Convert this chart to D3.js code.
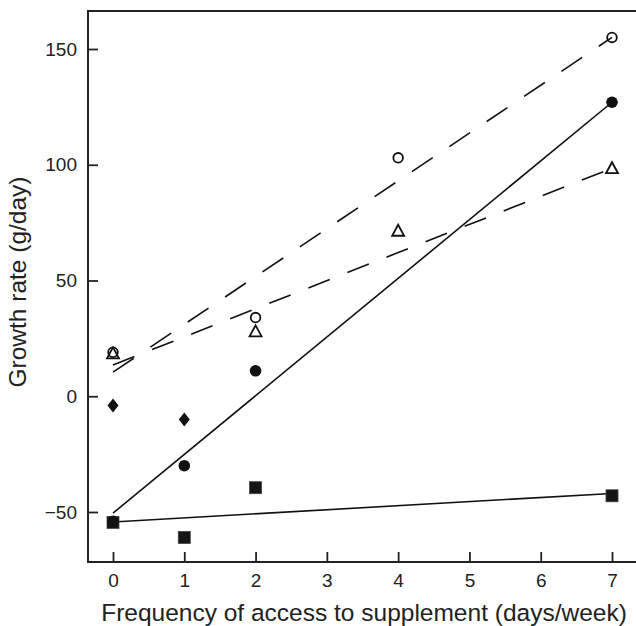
<!DOCTYPE html>
<html>
<head>
<meta charset="utf-8">
<script src="https://cdn.jsdelivr.net/npm/d3@7"></script>
<style>
  body { margin: 0; background: #fff; }
  svg text { font-family: "Liberation Sans", Arial, sans-serif; fill: #222; }
</style>
</head>
<body>
<div id="chart"></div>
<script>
// data
let xTicks = [0, 1, 2, 3, 4, 5, 6, 7]
let yTicks = [-50, 0, 50, 100, 150]

let openCircleX = [0, 2, 4, 7]
let openCircleY = [19, 34, 103, 155]
let triangleX = [0, 2, 4, 7]
let triangleY = [18.5, 28, 71.5, 98.5]
let filledCircleX = [0, 1, 2, 7]
let filledCircleY = [-54, -30, 11, 127]
let diamondX = [0, 1]
let diamondY = [-4, -10]
let squareX = [0, 1, 2, 7]
let squareY = [-54.5, -61, -39.5, -43]

// fitted lines, endpoints
let fitX = [0, 7]
let fitOpenY = [10.4, 155]
let fitTriangleY = [13.5, 98.5]
let fitFilledY = [-50.5, 127]
let fitSquareY = [-54.3, -42]

const width = 636, height = 626
var frame = { left: 88, top: 11, bottom: 562, right: 640 }

var svg = d3.select('#chart').append('svg')
    .attr('width', width)
    .attr('height', height)

var x = d3.scaleLinear().domain([0, 7]).range([113, 612])
var y = d3.scaleLinear().domain([-50, 150]).range([512, 49])

// axes, ticks pointing inward
svg.append('g')
    .attr('transform', 'translate(0,' + frame.bottom + ')')
    .call(d3.axisBottom(x).tickValues(xTicks).tickSize(-10).tickPadding(12).tickFormat(d3.format('d')))
svg.append('g')
    .attr('transform', 'translate(' + frame.left + ',0)')
    .call(d3.axisLeft(y).tickValues(yTicks).tickSize(-10).tickPadding(11))

svg.selectAll('.domain').remove()
svg.selectAll('.tick line').attr('stroke', '#222').attr('stroke-width', 1.8)
svg.selectAll('.tick text').style('font-size', '19px').attr('fill', '#222')

// frame
svg.append('path')
    .attr('d', 'M' + frame.right + ',' + frame.top + 'H' + frame.left + 'V' + frame.bottom + 'H' + frame.right)
    .attr('fill', 'none')
    .attr('stroke', '#222')
    .attr('stroke-width', 2)

// fit lines
let line = d3.line().x(d => x(d[0])).y(d => y(d[1]))
let fits = [
    { ys: fitOpenY, dash: '25,20' },
    { ys: fitTriangleY, dash: '23,19' },
    { ys: fitFilledY, dash: null },
    { ys: fitSquareY, dash: null }
]
fits.forEach(f => {
    svg.append('path')
        .attr('d', line(d3.zip(fitX, f.ys)))
        .attr('fill', 'none')
        .attr('stroke', '#111')
        .attr('stroke-width', 1.6)
        .attr('stroke-dasharray', f.dash)
})

// markers
svg.selectAll('.sq')
    .data(d3.zip(squareX, squareY))
    .enter().append('rect')
    .attr('x', d => x(d[0]) - 6)
    .attr('y', d => y(d[1]) - 6)
    .attr('width', 12)
    .attr('height', 12)
    .attr('fill', '#151515')
    .attr('stroke', '#444')
    .attr('stroke-width', 0.8)

svg.selectAll('.fc')
    .data(d3.zip(filledCircleX, filledCircleY))
    .enter().append('circle')
    .attr('cx', d => x(d[0]))
    .attr('cy', d => y(d[1]))
    .attr('r', 5.8)
    .attr('fill', '#111')

svg.selectAll('.dm')
    .data(d3.zip(diamondX, diamondY))
    .enter().append('path')
    .attr('d', d => {
        let cx = x(d[0]), cy = y(d[1])
        return 'M' + cx + ',' + (cy - 7) + 'L' + (cx + 5.5) + ',' + cy + 'L' + cx + ',' + (cy + 7) + 'L' + (cx - 5.5) + ',' + cy + 'Z'
    })
    .attr('fill', '#111')

svg.selectAll('.tri')
    .data(d3.zip(triangleX, triangleY))
    .enter().append('path')
    .attr('d', d => {
        let cx = x(d[0]), cy = y(d[1])
        return 'M' + cx + ',' + (cy - 6) + 'L' + (cx + 6) + ',' + (cy + 5) + 'L' + (cx - 6) + ',' + (cy + 5) + 'Z'
    })
    .attr('fill', 'none')
    .attr('stroke', '#111')
    .attr('stroke-width', 1.8)

svg.selectAll('.oc')
    .data(d3.zip(openCircleX, openCircleY))
    .enter().append('circle')
    .attr('cx', d => x(d[0]))
    .attr('cy', d => y(d[1]))
    .attr('r', 4.8)
    .attr('fill', 'none')
    .attr('stroke', '#111')
    .attr('stroke-width', 1.8)

// axis titles
svg.append('text')
    .attr('x', 364)
    .attr('y', 621)
    .attr('text-anchor', 'middle')
    .style('font-size', '24.5px')
    .text('Frequency of access to supplement (days/week)')

svg.append('text')
    .attr('transform', 'translate(26,282) rotate(-90)')
    .attr('text-anchor', 'middle')
    .style('font-size', '24.5px')
    .text('Growth rate (g/day)')
</script>
</body>
</html>
